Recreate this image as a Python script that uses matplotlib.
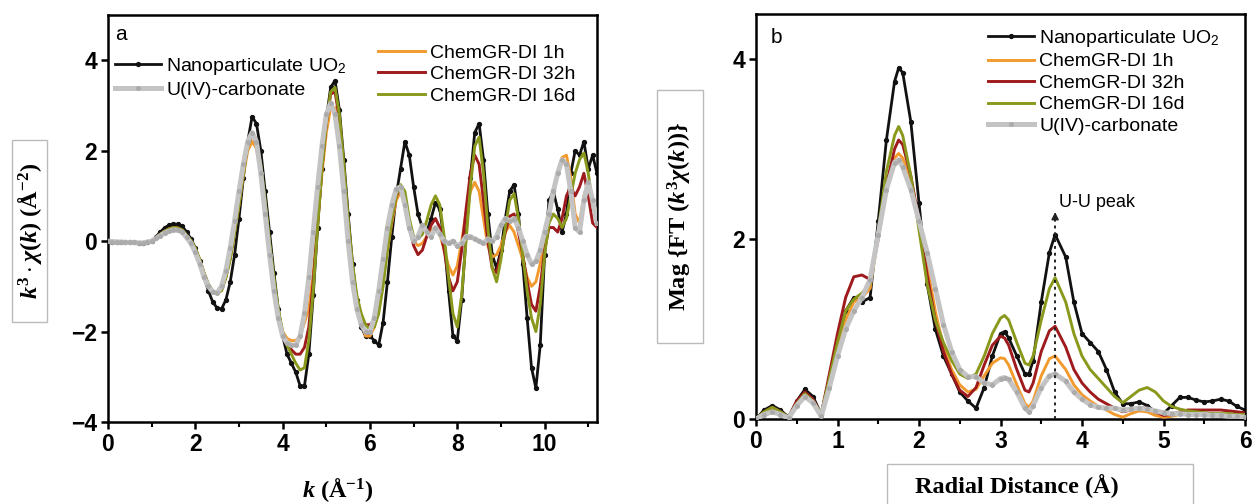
import numpy as np
import matplotlib
matplotlib.use("Agg")
import matplotlib.pyplot as plt
from matplotlib.patches import Rectangle
from matplotlib.ticker import MultipleLocator

plt.rcParams['font.family'] = ['Liberation Sans', 'DejaVu Sans']
plt.rcParams['mathtext.fontset'] = 'custom'
plt.rcParams['mathtext.rm'] = 'Liberation Serif:bold'
plt.rcParams['mathtext.it'] = 'Liberation Serif:italic:bold'
plt.rcParams['mathtext.bf'] = 'Liberation Serif:bold'
plt.rcParams['mathtext.sf'] = 'Liberation Sans'

# ---------------- panel a: k^3 chi(k) ----------------
k = np.round(np.arange(0, 11.25, 0.1), 2)

chi_uo2 = [0.0, -0.01, -0.01, -0.02, -0.02, -0.02, -0.03, -0.04, -0.05, -0.03,
           0.0, 0.1, 0.2, 0.3, 0.35, 0.38, 0.37, 0.33, 0.2, 0.05,
           -0.15, -0.45, -0.8, -1.1, -1.35, -1.48, -1.5, -1.3, -0.9, -0.3,
           0.5, 1.4, 2.2, 2.75, 2.6, 2.0, 1.1, 0.2, -0.7, -1.5,
           -2.1, -2.5, -2.7, -2.9, -3.2, -3.2, -2.5, -1.2, 0.3, 1.6,
           2.7, 3.4, 3.55, 2.9, 1.8, 0.6, -0.5, -1.3, -1.9, -2.1,
           -2.1, -2.2, -2.3, -1.8, -0.9, 0.1, 1.0, 1.6, 2.2, 1.9,
           1.2, 0.6, 0.3, 0.2, 0.5, 0.85, 0.7, 0.0, -1.1, -2.1,
           -2.2, -1.3, 0.1, 1.4, 2.4, 2.6, 1.8, 0.6, -0.3, -0.6,
           -0.2, 0.5, 1.1, 1.25, 0.6, -0.5, -1.7, -2.8, -3.25, -2.3,
           -0.3, 0.9, 1.1, 0.7, 0.2, 0.6, 1.5, 2.0, 1.9, 2.2,
           1.6, 1.9, 1.5]

chi_1h = [0.0, -0.01, -0.01, -0.02, -0.02, -0.02, -0.03, -0.03, -0.04, -0.02,
          0.0, 0.08, 0.15, 0.22, 0.27, 0.3, 0.29, 0.24, 0.12, 0.0,
          -0.17, -0.42, -0.72, -0.97, -1.12, -1.15, -1.08, -0.8, -0.4, 0.2,
          0.8, 1.45, 2.0, 2.2, 2.05, 1.55, 0.8, -0.1, -0.9, -1.6,
          -2.0, -2.15, -2.2, -2.2, -2.1, -1.8, -1.5, -0.7, 0.4, 1.5,
          2.4, 2.95, 2.95, 2.4, 1.4, 0.3, -0.6, -1.3, -1.8, -2.1,
          -2.1, -1.9, -1.5, -0.9, -0.2, 0.4, 0.9, 1.1, 0.8, 0.3,
          0.0, -0.1, -0.05, 0.1, 0.25, 0.3, 0.15, -0.2, -0.55, -0.75,
          -0.55, 0.0, 0.6, 1.1, 1.3, 1.1, 0.5, -0.1, -0.35, -0.3,
          -0.1, 0.2, 0.35, 0.2, -0.1, -0.4, -0.8, -1.0, -0.9, -0.5,
          0.1, 0.6, 1.0, 1.5, 1.85, 1.9, 1.4, 0.6, 0.4, 1.0,
          1.3, 0.9, 0.6]

chi_32h = [0.0, -0.01, -0.01, -0.02, -0.02, -0.02, -0.03, -0.03, -0.04, -0.02,
           0.0, 0.08, 0.15, 0.22, 0.27, 0.3, 0.29, 0.24, 0.12, 0.0,
           -0.17, -0.42, -0.72, -0.97, -1.12, -1.15, -1.08, -0.78, -0.35, 0.25,
           0.85, 1.55, 2.1, 2.35, 2.15, 1.6, 0.8, -0.1, -0.9, -1.6,
           -2.1, -2.3, -2.4, -2.5, -2.5, -2.35, -1.9, -0.9, 0.4, 1.6,
           2.6, 3.25, 3.3, 2.7, 1.6, 0.4, -0.6, -1.3, -1.7, -1.85,
           -1.85, -1.75, -1.4, -0.8, -0.1, 0.5, 1.0, 1.15, 0.9, 0.3,
           -0.1, -0.3, -0.2, 0.1, 0.35, 0.5, 0.3, -0.2, -0.8, -1.1,
           -0.9, -0.2, 0.7, 1.5, 1.9, 1.7, 0.9, 0.0, -0.6, -0.7,
           -0.3, 0.2, 0.55, 0.6, 0.2, -0.3, -0.9, -1.4, -1.55, -1.0,
           -0.2, 0.3, 0.3, 0.2, 0.5, 1.0, 1.2, 1.0, 1.2, 1.5,
           1.0, 0.4, 0.3]

chi_16d = [0.0, -0.01, -0.01, -0.02, -0.02, -0.02, -0.03, -0.03, -0.04, -0.02,
           0.0, 0.08, 0.15, 0.22, 0.27, 0.3, 0.29, 0.25, 0.13, 0.02,
           -0.15, -0.4, -0.7, -0.95, -1.1, -1.15, -1.1, -0.8, -0.4, 0.2,
           0.8, 1.5, 2.1, 2.35, 2.2, 1.7, 0.9, 0.0, -0.8, -1.5,
           -2.0, -2.3, -2.5, -2.7, -2.85, -2.8, -2.2, -1.1, 0.3, 1.6,
           2.6, 3.3, 3.4, 2.8, 1.7, 0.5, -0.5, -1.2, -1.6, -1.85,
           -1.95, -1.9, -1.6, -1.0, -0.2, 0.5, 1.0, 1.25, 1.1, 0.5,
           0.1, 0.05, 0.15, 0.45, 0.8, 1.0, 0.8, 0.1, -0.8, -1.6,
           -1.9, -1.2, 0.0, 1.2, 2.1, 2.3, 1.5, 0.3, -0.6, -0.9,
           -0.4, 0.3, 0.9, 1.05, 0.5, -0.3, -1.1, -1.7, -2.0, -1.4,
           -0.3, 0.4, 0.6, 0.5, 0.3, 0.5, 1.0, 1.5, 1.8, 1.95,
           1.5, 0.8, 0.5]

chi_carb = [0.0, -0.01, -0.02, -0.02, -0.03, -0.03, -0.03, -0.04, -0.04, -0.02,
            0.0, 0.06, 0.12, 0.18, 0.22, 0.25, 0.24, 0.2, 0.08, -0.05,
            -0.25, -0.5, -0.8, -1.0, -1.12, -1.15, -1.0, -0.65, -0.15, 0.45,
            1.1, 1.7, 2.2, 2.4, 2.2, 1.5, 0.6, -0.3, -1.1, -1.7,
            -2.1, -2.25, -2.3, -2.3, -2.1, -1.6, -0.8, 0.2, 1.2, 2.1,
            2.8, 3.05, 2.8, 2.1, 1.1, 0.0, -0.9, -1.5, -1.85, -2.0,
            -2.0, -1.7, -1.1, -0.4, 0.3, 0.8, 1.15, 1.2, 0.8, 0.3,
            0.0, 0.1, 0.35, 0.2, 0.1, 0.3, 0.15, 0.0, -0.05, 0.0,
            -0.1, -0.05, 0.1, 0.1, 0.05, 0.0, -0.05, 0.05, 0.0, 0.1,
            0.35, 0.5, 0.45, 0.5, 0.3, 0.0, -0.3, -0.5, -0.45, -0.2,
            0.2, 0.6, 1.1, 1.5, 1.8, 1.7, 1.1, 0.3, 0.2, 0.9,
            1.3, 0.9, 0.4]

# ---------------- panel b: FT magnitude ----------------
r = [0.0, 0.1, 0.2, 0.3, 0.4, 0.5, 0.6, 0.7, 0.8, 0.9,
     1.0, 1.1, 1.2, 1.3, 1.4, 1.5, 1.6, 1.7, 1.75, 1.8,
     1.9, 2.0, 2.1, 2.2, 2.3, 2.4, 2.5, 2.6, 2.7, 2.8,
     2.9, 3.0, 3.05, 3.1, 3.2, 3.3, 3.35, 3.4, 3.5, 3.6,
     3.67, 3.8, 3.9, 4.0, 4.1, 4.2, 4.3, 4.4, 4.5, 4.6,
     4.7, 4.8, 4.9, 5.0, 5.1, 5.2, 5.3, 5.4, 5.5, 5.6,
     5.7, 5.8, 5.9, 6.0]

ft_uo2 = [0.0, 0.1, 0.15, 0.1, 0.02, 0.2, 0.33, 0.25, 0.05, 0.45,
          0.85, 1.2, 1.35, 1.3, 1.35, 2.2, 3.1, 3.75, 3.9, 3.85,
          3.3, 2.4, 1.5, 1.0, 0.7, 0.5, 0.3, 0.2, 0.12, 0.35,
          0.7, 0.95, 0.97, 0.9, 0.7, 0.5, 0.5, 0.65, 1.3, 1.85,
          2.05, 1.8, 1.3, 0.95, 0.85, 0.75, 0.55, 0.3, 0.17, 0.17,
          0.19, 0.15, 0.08, 0.06, 0.15, 0.24, 0.24, 0.21, 0.19, 0.2,
          0.22, 0.2, 0.14, 0.1]

ft_1h = [0.0, 0.06, 0.1, 0.06, 0.01, 0.18, 0.28, 0.2, 0.03, 0.4,
         0.8, 1.1, 1.3, 1.35, 1.45, 2.05, 2.6, 2.9, 2.95, 2.9,
         2.65, 2.2, 1.7, 1.2, 0.8, 0.55, 0.38, 0.3, 0.33, 0.48,
         0.62, 0.68, 0.67, 0.6, 0.38, 0.17, 0.13, 0.2, 0.48, 0.67,
         0.7, 0.55, 0.38, 0.27, 0.2, 0.14, 0.1, 0.05, 0.02, 0.06,
         0.09, 0.08, 0.04, 0.02, 0.03, 0.05, 0.06, 0.06, 0.06, 0.05,
         0.05, 0.05, 0.04, 0.04]

ft_32h = [0.0, 0.08, 0.13, 0.08, 0.02, 0.2, 0.3, 0.22, 0.05, 0.5,
          0.95, 1.35, 1.58, 1.6, 1.55, 2.0, 2.6, 3.0, 3.1, 3.05,
          2.7, 2.2, 1.6, 1.1, 0.75, 0.5, 0.32, 0.25, 0.35, 0.6,
          0.82, 0.92, 0.9, 0.82, 0.55, 0.32, 0.3, 0.4, 0.75, 0.98,
          1.03, 0.8, 0.55, 0.4, 0.3, 0.22, 0.17, 0.12, 0.08, 0.1,
          0.13, 0.12, 0.08, 0.04, 0.05, 0.08, 0.1, 0.1, 0.1, 0.1,
          0.1, 0.09, 0.08, 0.07]

ft_16d = [0.0, 0.08, 0.13, 0.08, 0.02, 0.17, 0.28, 0.2, 0.06, 0.45,
          0.85, 1.2, 1.33, 1.4, 1.5, 2.1, 2.75, 3.15, 3.25, 3.15,
          2.7, 2.1, 1.5, 1.1, 0.85, 0.65, 0.5, 0.45, 0.5, 0.7,
          0.95, 1.12, 1.15, 1.1, 0.85, 0.62, 0.6, 0.7, 1.1, 1.45,
          1.57, 1.3, 0.95, 0.7, 0.55, 0.45, 0.35, 0.25, 0.18, 0.25,
          0.32, 0.35, 0.3, 0.2, 0.14, 0.11, 0.09, 0.08, 0.07, 0.06,
          0.06, 0.06, 0.05, 0.05]

ft_carb = [0.0, 0.05, 0.08, 0.05, 0.01, 0.15, 0.25, 0.18, 0.03, 0.35,
           0.7, 1.0, 1.2, 1.35, 1.55, 2.05, 2.55, 2.85, 2.88, 2.8,
           2.55, 2.2, 1.85, 1.45, 1.05, 0.75, 0.55, 0.47, 0.47, 0.4,
           0.38, 0.45, 0.46, 0.44, 0.3, 0.12, 0.08, 0.15, 0.35, 0.48,
           0.5, 0.42, 0.3, 0.22, 0.16, 0.13, 0.12, 0.12, 0.1, 0.11,
           0.12, 0.11, 0.09, 0.07, 0.06, 0.06, 0.05, 0.05, 0.05, 0.04,
           0.04, 0.03, 0.03, 0.02]

uu_peak_r = 3.67
uu_arrow_top = 2.33

labels = ["Nanoparticulate UO$_\\mathsf{2}$", "ChemGR-DI 1h", "ChemGR-DI 32h",
          "ChemGR-DI 16d", "U(IV)-carbonate"]
colors = ["#111111", "#F39A2E", "#9E1A1C", "#8A981C", "#C4C4C4"]

W, H = 1254, 504
fig = plt.figure(figsize=(W / 100, H / 100), dpi=100)

def fx(px):
    return px / W

def fy(py):
    return 1 - py / H

axa = fig.add_axes([fx(108), fy(422), fx(597) - fx(108), fy(15) - fy(422)])
axb = fig.add_axes([fx(756), fy(419), fx(1245) - fx(756), fy(14) - fy(419)])

def draw(ax, x, series):
    hs = []
    for i, (y, c) in enumerate(zip(series, colors)):
        if i == 0:
            h, = ax.plot(x, y, color=c, lw=2.0, marker='o', ms=2.8, mec=c, mfc=c, zorder=2)
        elif i == 4:
            h, = ax.plot(x, y, color=c, lw=3.6, marker='o', ms=2.6, mec='#ABABAB',
                         mfc='#ABABAB', zorder=6)
        else:
            h, = ax.plot(x, y, color=c, lw=2.1, zorder=3 + i)
        hs.append(h)
    return hs

ha = draw(axa, k, [chi_uo2, chi_1h, chi_32h, chi_16d, chi_carb])
hb = draw(axb, r, [ft_uo2, ft_1h, ft_32h, ft_16d, ft_carb])

for ax in (axa, axb):
    for s in ax.spines.values():
        s.set_linewidth(1.8)
    ax.tick_params(axis='both', which='major', direction='out', length=5, width=1.8,
                   labelsize=16.5, pad=3)
    ax.tick_params(axis='both', which='minor', direction='out', length=3.5, width=1.5)
    ax.tick_params(axis='y', which='minor', left=False)

axa.set_xlim(0, 11.2)
axa.set_ylim(-4, 5)
axa.xaxis.set_major_locator(MultipleLocator(2))
axa.xaxis.set_minor_locator(MultipleLocator(1))
axa.set_yticks([-4, -2, 0, 2, 4])

axb.set_xlim(0, 6)
axb.set_ylim(0, 4.5)
axb.xaxis.set_major_locator(MultipleLocator(1))
axb.xaxis.set_minor_locator(MultipleLocator(0.5))
axb.set_yticks([0, 2, 4])

for ax in (axa, axb):
    for t in ax.get_xticklabels() + ax.get_yticklabels():
        t.set_fontweight('bold')

# legends
leg_kw = dict(frameon=False, fontsize=14, handlelength=2.4, handletextpad=0.25,
              labelspacing=0.2, borderaxespad=0.0)
l1 = axa.legend([ha[0], ha[4]], [labels[0], labels[4]], loc='upper left',
                bbox_to_anchor=(-0.002, 0.918), **leg_kw)
axa.add_artist(l1)
axa.legend([ha[1], ha[2], ha[3]], [labels[1], labels[2], labels[3]], loc='upper left',
           bbox_to_anchor=(0.537, 0.948), **leg_kw)
axb.legend(hb, labels, loc='upper left', bbox_to_anchor=(0.458, 0.985), **leg_kw)

axa.text(0.015, 0.975, 'a', transform=axa.transAxes, fontsize=15, va='top', ha='left')
axb.text(0.03, 0.965, 'b', transform=axb.transAxes, fontsize=15, va='top', ha='left')

# U-U peak annotation
axb.plot([uu_peak_r, uu_peak_r], [0, uu_arrow_top - 0.1], ls=(0, (1.5, 2)), color='#222222',
         lw=1.4, zorder=8)
axb.annotate('', xy=(uu_peak_r, uu_arrow_top), xytext=(uu_peak_r, uu_arrow_top - 0.14),
             arrowprops=dict(arrowstyle='-|>', color='#222222', lw=1, mutation_scale=11),
             zorder=8)
axb.text(uu_peak_r + 0.05, uu_arrow_top - 0.02, 'U-U peak', fontsize=13, ha='left', va='bottom')

# axis labels (serif, boxed)
def boxed(x0, y0, x1, y1):
    fig.add_artist(Rectangle((fx(x0), fy(y1)), fx(x1) - fx(x0), fy(y0) - fy(y1),
                             transform=fig.transFigure, fill=False, ec='#BBBBBB', lw=1.0))

boxed(12, 140, 47, 322)
fig.text(fx(30), fy(231), r'$k^3\cdot\chi(k)$ (Å$^{-2}$)', rotation=90, ha='center',
         va='center', fontsize=17.5, family='Liberation Serif', fontweight='bold')
fig.text(fx(338), fy(490), r'$k$ (Å$^{-1}$)', ha='center', va='center', fontsize=17.5,
         family='Liberation Serif', fontweight='bold')

boxed(657, 90, 703, 343)
fig.text(fx(680), fy(216), r'Mag {FT ($k^3\chi(k)$)}', rotation=90, ha='center',
         va='center', fontsize=17.5, family='Liberation Serif', fontweight='bold')
boxed(887, 464, 1193, 506)
fig.text(fx(1017), fy(486), 'Radial Distance (Å)', ha='center', va='center', fontsize=17.5,
         family='Liberation Serif', fontweight='bold')

fig.savefig('out.png', dpi=100)
